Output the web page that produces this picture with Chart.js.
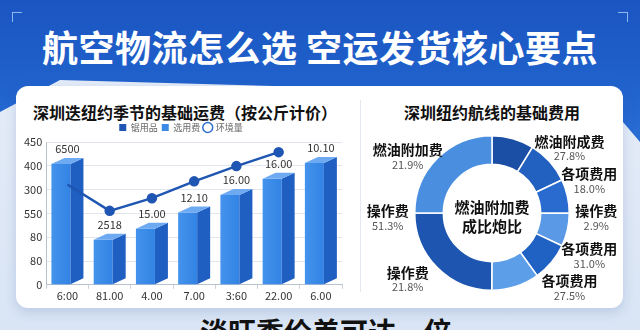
<!DOCTYPE html>
<html>
<head>
<meta charset="utf-8">
<script src="https://cdn.jsdelivr.net/npm/chart.js@4.4.1/dist/chart.umd.min.js"></script>
<style>
    body { margin: 0; width: 640px; height: 330px; overflow: hidden; position: relative;
        font-family: 'Noto Sans CJK SC', 'Noto Sans', sans-serif;
        background: linear-gradient(180deg, #e8eff9 0%, #dfe8f6 60%, #d9e5f5 100%); }
    #hdr { position: absolute; left: 0; top: 0; width: 640px; height: 150px;
        background: linear-gradient(180deg, #1b55c1 0%, #1f60cb 50%, #2b6fd6 100%);
        clip-path: polygon(0 0, 640px 0, 640px 142px, 600px 95px, 60px 80px, 0 112px); }
    .corner { position: absolute; top: 12px; width: 9px; height: 9px; border-top: 1.5px solid #8fb6f0; }
    #cl { left: 12px; border-left: 1.5px solid #8fb6f0; }
    #cr { right: 12px; border-right: 1.5px solid #8fb6f0; }
    #title { position: absolute; top: 20px; left: 0; width: 640px; text-align: center; color: #fff;
        font-size: 36px; font-weight: 700; line-height: 52px; letter-spacing: 0.5px; }
    #card { position: absolute; left: 16px; top: 86px; width: 607px; height: 222px; background: #fff;
        border-radius: 12px; box-shadow: 0 4px 12px rgba(40, 80, 150, 0.18); }
    #divider { position: absolute; left: 360px; top: 100px; width: 1px; height: 192px; background: #e4e8ef; }
    .ctitle { position: absolute; top: 100px; font-size: 16px; font-weight: 700; color: #111; line-height: 24px; white-space: nowrap; }
    #t1 { left: 33px; }
    #t2 { left: 362px; width: 260px; text-align: center; }
    #bottom { position: absolute; left: 200px; top: 314px; font-size: 28px; font-weight: 700; color: #111; line-height: 34px; white-space: nowrap; }
    #c1 { position: absolute; left: 20px; top: 119px; }
    #c2 { position: absolute; left: 352px; top: 126px; }
</style>
</head>
<body>
<div id="hdr"></div>
<div class="corner" id="cl"></div>
<div class="corner" id="cr"></div>
<div id="title">航空物流怎么选 空运发货核心要点</div>
<div id="card"></div>
<div id="divider"></div>
<div class="ctitle" id="t1">深圳迭纽约季节的基础运费（按公斤计价）</div>
<div class="ctitle" id="t2">深圳纽约航线的基础费用</div>
<canvas id="c1" width="330" height="183"></canvas>
<canvas id="c2" width="280" height="176"></canvas>
<div id="bottom">淡旺季价差可达一倍</div>
<script>
// left chart data
const months = ['6:00', '81.00', '4.00', '7.00', '3:60', '22.00', '6.00'];
const baseFee = [381, 142, 177, 228, 283, 334, 384];
const baseFeeText = ['6500', '2518', '15.00', '12.10', '16.00', '16.00', '10.10'];
const trend = [316, 233, 273, 326, 374, 418, null];
const yTickLabels = ['0', '80', '80', '550', '300', '400', '450'];
const legendNames = ['锯用品', '选用费', '环境量'];

// right chart data
const feeNames = ['燃油附成费', '各项费用', '操作费', '各项费用', '各项费用', '操作费', '操作费', '燃油附加费'];
const feeShares = [8.8, 9.2, 7.1, 6.9, 8.1, 10, 25, 25];
const feePct = ['27.8%', '18.0%', '2.9%', '31.0%', '27.5%', '21.8%', '51.3%', '21.9%'];
const centerText = ['燃油附加费', '成比炮比'];

const FONT = "'Noto Sans CJK SC', 'Noto Sans', sans-serif";
Chart.defaults.font.family = FONT;
Chart.defaults.animation = false;

// draws the 3d bars behind the line, from the bar elements
const bar3d = {
    id: 'bar3d',
    beforeDatasetsDraw(chart) {
        const c = chart.ctx;
        const meta = chart.getDatasetMeta(1);
        c.save();
        meta.data.forEach(function (b) {
            const x = b.x, y = b.y, base = b.base, d = 6;
            const l = x - 16, m = x + 3, r = x + 16;
            const g = c.createLinearGradient(l, 0, m, 0);
            g.addColorStop(0, '#4493ec');
            g.addColorStop(1, '#3283e4');
            c.fillStyle = g;
            c.fillRect(l, y, m - l, base - y);
            c.fillStyle = '#1f5fc2';
            c.beginPath();
            c.moveTo(m, y); c.lineTo(r, y - d); c.lineTo(r, base - d); c.lineTo(m, base);
            c.closePath(); c.fill();
            c.fillStyle = '#6eaaf2';
            c.beginPath();
            c.moveTo(l, y); c.lineTo(l + 13, y - d); c.lineTo(r, y - d); c.lineTo(m, y);
            c.closePath(); c.fill();
        });
        c.restore();
    },
    afterDatasetsDraw(chart) {
        const c = chart.ctx;
        c.save();
        c.font = '11px ' + FONT;
        c.fillStyle = '#333';
        c.textAlign = 'center';
        c.textBaseline = 'middle';
        chart.getDatasetMeta(1).data.forEach(function (b, i) {
            c.fillText(baseFeeText[i], b.x, b.y - 15);
        });
        c.restore();
    }
};

new Chart(document.getElementById('c1'), {
    type: 'bar',
    data: {
        labels: months,
        datasets: [{
            type: 'line',
            data: trend,
            borderColor: '#1f56b3',
            backgroundColor: '#1f56b3',
            borderWidth: 2.5,
            pointRadius: [0, 4, 4, 4, 4, 4, 0],
            pointBackgroundColor: '#1f56b3',
            tension: 0,
            order: 1
        }, {
            type: 'bar',
            data: baseFee,
            backgroundColor: 'rgba(0,0,0,0)',
            order: 2
        }]
    },
    options: {
        responsive: false,
        layout: { padding: { right: 8, top: 0 } },
        plugins: {
            tooltip: { enabled: false },
            legend: {
                position: 'top',
                labels: {
                    usePointStyle: true,
                    boxWidth: 7,
                    boxHeight: 7,
                    padding: 4,
                    color: '#666',
                    font: { size: 9 },
                    generateLabels: function () {
                        const cols = ['#1f56b3', '#3a8ae6', '#ffffff'];
                        return legendNames.map(function (n, i) {
                            return {
                                text: n, fillStyle: cols[i], strokeStyle: i === 2 ? '#2e6fd0' : cols[i],
                                lineWidth: i === 2 ? 1.5 : 0, pointStyle: i === 2 ? 'circle' : 'rect',
                                hidden: false, fontColor: '#666'
                            };
                        });
                    }
                }
            }
        },
        scales: {
            x: {
                grid: { drawOnChartArea: false, tickLength: 4, color: '#c9d0da' },
                border: { color: '#b9c2cf' },
                ticks: { color: '#333', font: { size: 11 }, padding: 0 }
            },
            y: {
                min: 0, max: 450,
                ticks: {
                    stepSize: 75,
                    color: '#333',
                    font: { size: 11 },
                    padding: 4,
                    callback: function (v) { return yTickLabels[Math.round(v / 75)]; }
                },
                grid: { color: '#e1e6ee', drawTicks: false },
                border: { color: '#b9c2cf' }
            }
        }
    },
    plugins: [bar3d]
});

// labels round the doughnut and the centre text
const donutText = {
    id: 'donutText',
    afterDraw(chart) {
        const c = chart.ctx;
        const arc = chart.getDatasetMeta(0).data[0];
        const cx = arc.x, cy = arc.y, R = arc.outerRadius + 27;
        c.save();
        c.textAlign = 'center';
        c.textBaseline = 'middle';
        feeNames.forEach(function (n, i) {
            const deg = i < 5 ? 90 + (i - 2) * 21 : 270 + (i - 6) * 36;
            const t = deg * Math.PI / 180;
            const x = cx + R * Math.sin(t), y = cy - R * Math.cos(t);
            c.font = 'bold 14px ' + FONT;
            c.fillStyle = '#111';
            c.fillText(n, x, y - 2);
            c.font = '11px ' + FONT;
            c.fillStyle = '#555';
            c.fillText(feePct[i], x, y + 13);
        });
        c.font = 'bold 15px ' + FONT;
        c.fillStyle = '#111';
        c.fillText(centerText[0], cx, cy - 6);
        c.fillText(centerText[1], cx, cy + 13);
        c.restore();
    }
};

new Chart(document.getElementById('c2'), {
    type: 'doughnut',
    data: {
        labels: feeNames,
        datasets: [{
            data: feeShares,
            backgroundColor: ['#1b4fa6', '#2361c0', '#2a6bcf', '#5a99e6', '#2061c4', '#5d9ee8', '#1d55b0', '#4a8ee0'],
            borderColor: '#ffffff',
            borderWidth: 1.5
        }]
    },
    options: {
        responsive: false,
        cutout: '63%',
        layout: { padding: { top: 9, bottom: 11, left: 62, right: 62 } },
        plugins: { legend: { display: false }, tooltip: { enabled: false } }
    },
    plugins: [donutText]
});
</script>
</body>
</html>
